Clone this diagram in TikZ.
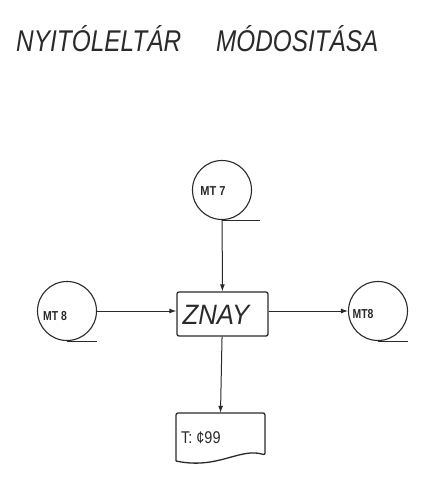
\documentclass[tikz,border=0pt]{standalone}
\usepackage{fontspec}
\usepackage{graphicx}
\setmainfont{Liberation Sans}
\usetikzlibrary{arrows.meta}
\definecolor{ink}{HTML}{2A2A2A}
\tikzset{
  tape/.style={circle, draw=ink, line width=1.1pt, minimum size=59pt, inner sep=0pt},
  proc/.style={draw=ink, line width=1.3pt, rounded corners=2pt, minimum width=91pt, minimum height=44pt, inner sep=0pt},
  flow/.style={draw=ink, line width=1pt, -{Latex[length=7pt,width=5pt]}},
  tapeline/.style={draw=ink, line width=1.1pt},
  lbl/.style={text=ink, inner sep=0pt},
  ttl/.style={lbl, anchor=base west, font=\fontsize{30}{30}\selectfont\itshape},
}
\begin{document}
\begin{tikzpicture}[x=1pt,y=-1pt]
\useasboundingbox[fill=white] (0,0) rectangle (428,495);
% title
\node[ttl] (t1) at (16,52) {\resizebox{165pt}{\height}{NYITÓLELTÁR}};
\node[ttl] (t2) at (216,52) {\resizebox{162pt}{\height}{MÓDOSITÁSA}};
% tapes
\node[tape] (mt7) at (222,190) {};
\node[lbl, font=\fontsize{13}{13}\selectfont\bfseries] (mt7l) at (213,191) {\scalebox{0.85}[1]{MT 7}};
\node[tape] (mt8a) at (67,311) {};
\node[lbl, font=\fontsize{13}{13}\selectfont\bfseries] (mt8al) at (55,316) {\scalebox{0.8}[1]{MT 8}};
\node[tape] (mt8b) at (378,311) {};
\node[lbl, font=\fontsize{13}{13}\selectfont\bfseries] (mt8bl) at (363,314) {\scalebox{0.8}[1]{MT8}};
\draw[tapeline] (mt7.south) -- ++(38,0);
\draw[tapeline] (mt8a.south) -- ++(30,0);
\draw[tapeline] (mt8b.south) -- ++(30,0);
% process
\node[proc] (znay) at (222.5,314) {};
\node[lbl, font=\fontsize{28}{28}\selectfont\itshape] (znayl) at (216,315) {\scalebox{0.92}[1]{ZNAY}};
% document
\node[minimum width=89pt, minimum height=44pt, inner sep=0pt] (doc) at (220.5,435) {};
\draw[draw=ink, line width=1.3pt, rounded corners=2pt]
  (176,461) -- (176,413) -- (265,413) -- (265,455)
  [sharp corners] .. controls (240,447) and (218,470) .. (176,461);
\node[lbl, anchor=base west, font=\fontsize{17}{17}\selectfont] (docl) at (181,443) {\scalebox{0.85}[1]{T: ¢99}};
% connectors
\draw[flow] (mt7) -- (znay);
\draw[flow] (mt8a.east) -- (mt8a.east -| znay.west);
\draw[flow] (mt8a.east -| znay.east) -- (mt8b.west);
\draw[flow] (znay) -- (doc.north);
\end{tikzpicture}
\end{document}
